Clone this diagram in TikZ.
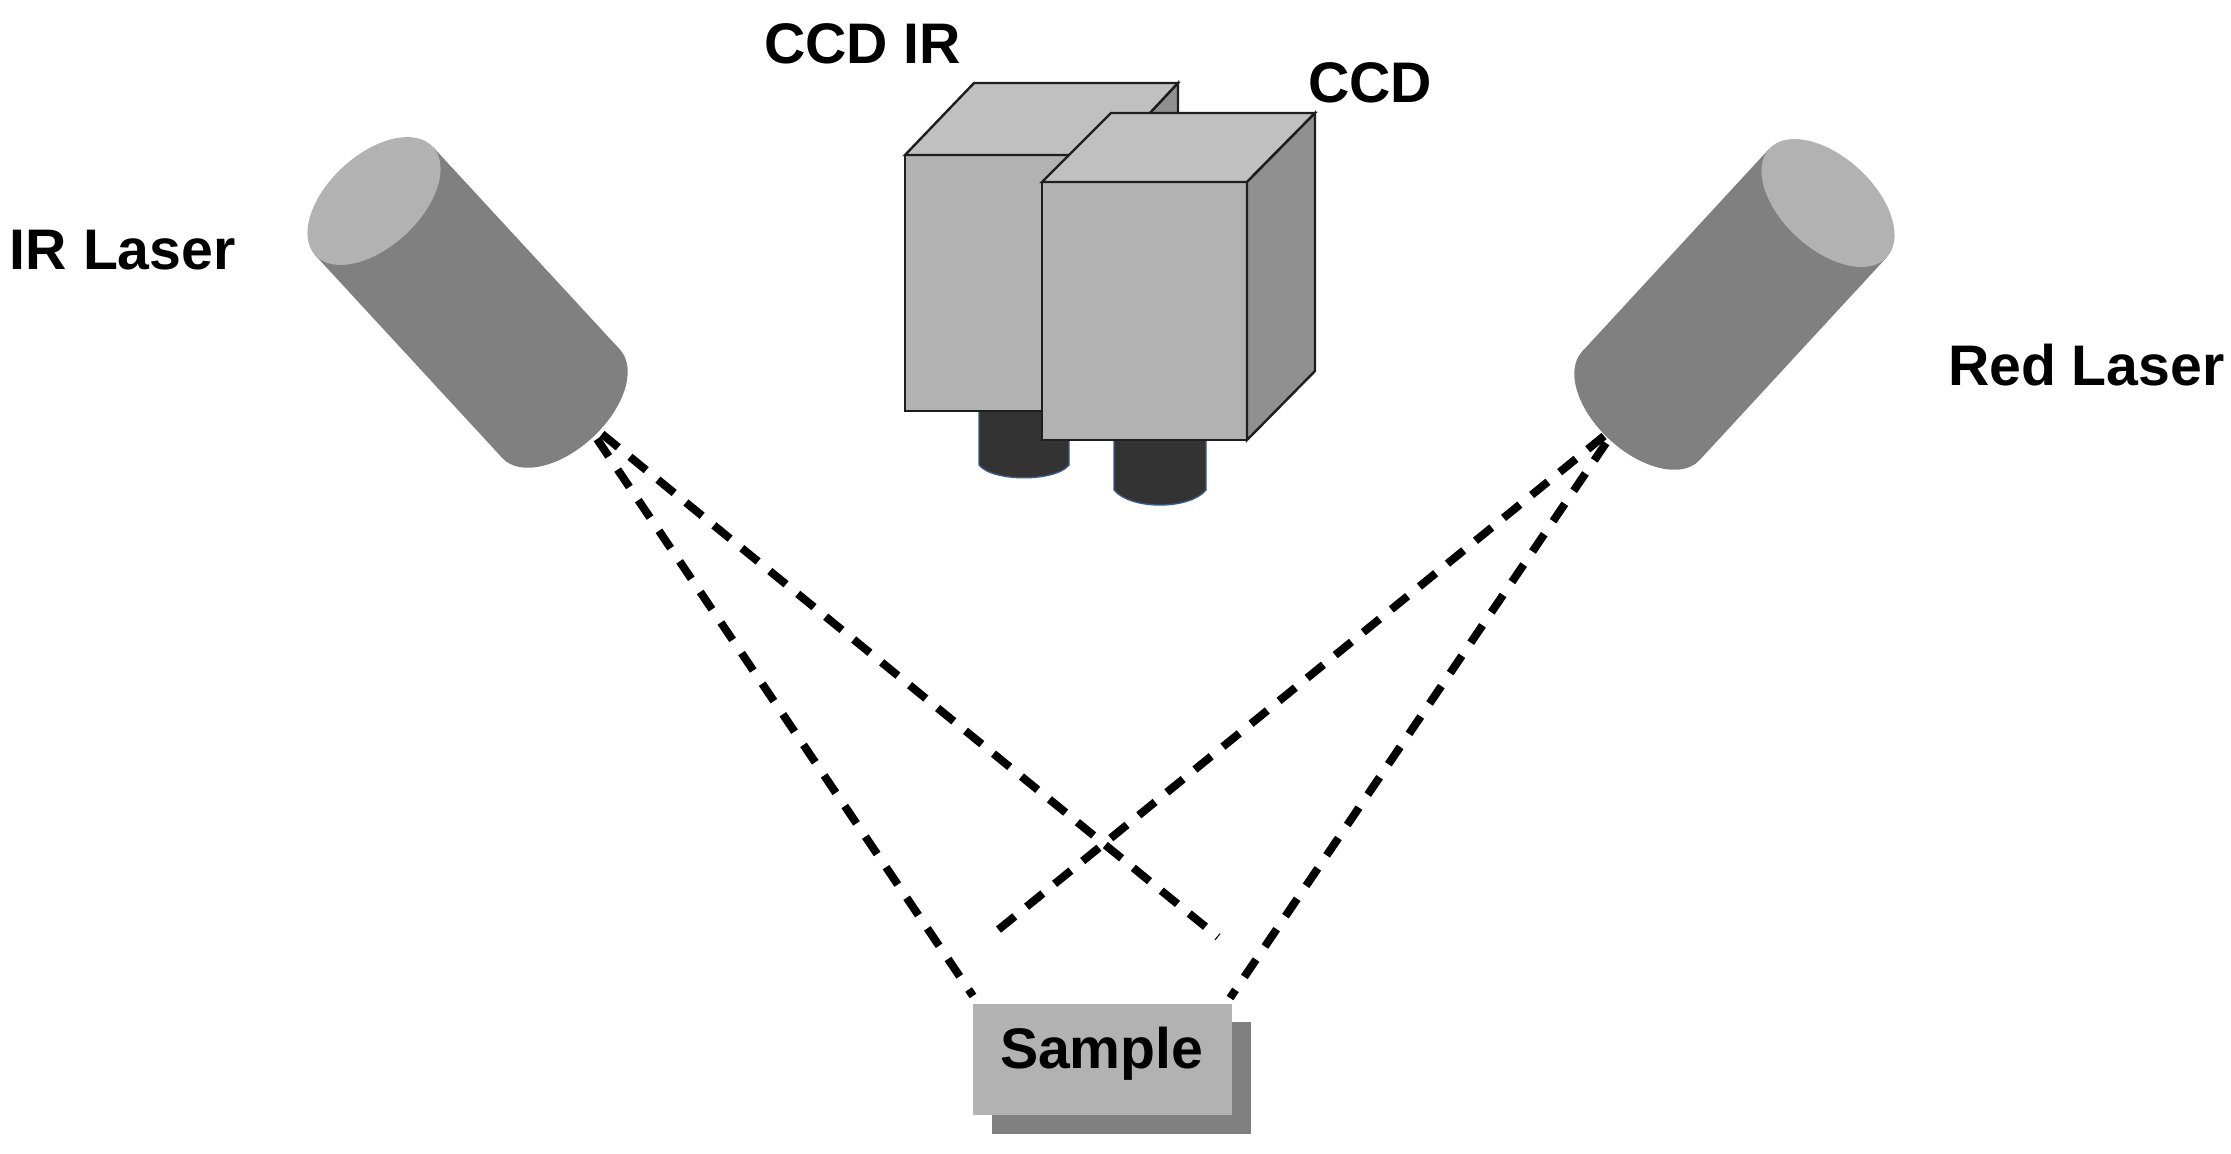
\documentclass[tikz,border=0pt]{standalone}
\usepackage{fontspec}
\setmainfont{Liberation Sans}
\definecolor{faceC}{HTML}{B2B2B2}
\definecolor{topC}{HTML}{C0C0C0}
\definecolor{sideC}{HTML}{909090}
\definecolor{bodyC}{HTML}{808080}
\definecolor{lensC}{HTML}{333333}
\definecolor{lensE}{HTML}{36598C}
\definecolor{lineC}{HTML}{1E1E1E}
\tikzset{
  lbl/.style={anchor=base west,inner sep=0pt,outer sep=0pt,font=\fontsize{28.6}{30}\selectfont\bfseries},
  box/.style={draw=lineC,line width=1.2pt,line join=miter},
  beam/.style={draw=black,line width=4pt,dash pattern=on 10.5pt off #1pt},
  lens/.style={fill=lensC},
  lensline/.style={draw=lensE,line width=0.7pt},
  cyl/.style={fill=bodyC},
  capf/.style={fill=faceC},
}
\newcommand{\lasercyl}[3]{%
  \begin{scope}[shift={(#1,#2)},rotate=#3]
    \fill[cyl] (0,-80) rectangle (276,80);
    \fill[cyl] (276,0) ellipse [x radius=23pt,y radius=40pt];
    \fill[capf] (0,0) ellipse [x radius=23pt,y radius=40pt];
  \end{scope}}
\begin{document}
\begin{tikzpicture}[x=0.5pt,y=-0.5pt]
\useasboundingbox (0,0) rectangle (2231,1153);
% lasers
\lasercyl{374}{201}{-47.3}
\lasercyl{1828}{203}{-132.7}
% camera IR
\path[lens] (979,405) -- (979,465) .. controls (993,482) and (1055,482) .. (1069,465) -- (1069,405) -- cycle;
\path[lensline] (979,411) -- (979,465) .. controls (993,482) and (1055,482) .. (1069,465) -- (1069,411);
\path[box,fill=faceC] (905,155) rectangle (1111,411);
\path[box,fill=topC] (905,155) -- (974,83) -- (1178,83) -- (1111,155) -- cycle;
\path[box,fill=sideC] (1111,155) -- (1178,83) -- (1178,355) -- (1111,411) -- cycle;
% camera visible
\path[lens] (1114,435) -- (1114,490) .. controls (1131,510) and (1189,510) .. (1206,490) -- (1206,435) -- cycle;
\path[lensline] (1114,440) -- (1114,490) .. controls (1131,510) and (1189,510) .. (1206,490) -- (1206,440);
\path[box,fill=faceC] (1042,182) rectangle (1247,440);
\path[box,fill=topC] (1042,182) -- (1111,113) -- (1315,113) -- (1247,182) -- cycle;
\path[box,fill=sideC] (1247,182) -- (1315,113) -- (1315,371) -- (1247,440) -- cycle;
% sample
\fill[bodyC] (992,1022) rectangle (1251,1134);
\node[fill=faceC,inner sep=0pt,outer sep=0pt,minimum width=129.5pt,minimum height=55.5pt,anchor=north west] (sample) at (973,1004) {};
% beam ends
\coordinate (irA) at (602,434);
\coordinate (irB) at (597,439);
\coordinate (redC) at (1604,436);
\coordinate (redD) at (1606,443);
\coordinate (endA) at (1218,937);
\coordinate (endB) at (973,996);
\coordinate (endC) at (998,930);
\coordinate (endD) at (1230,998);
\draw[beam=7.55] (irA) -- (endA);
\draw[beam=7.95] (irB) -- (endB);
\draw[beam=7.6] (redC) -- (endC);
\draw[beam=7.85] (redD) -- (endD);
% labels
\node[lbl] (lccdir) at (764,63) {CCD IR};
\node[lbl] (lccd) at (1308,102) {CCD};
\node[lbl] (lir) at (10,269) {IR Laser};
\node[lbl] (lred) at (1948,385) {Red Laser};
\node[lbl] (lsample) at (1000,1068) {Sample};
\end{tikzpicture}
\end{document}
